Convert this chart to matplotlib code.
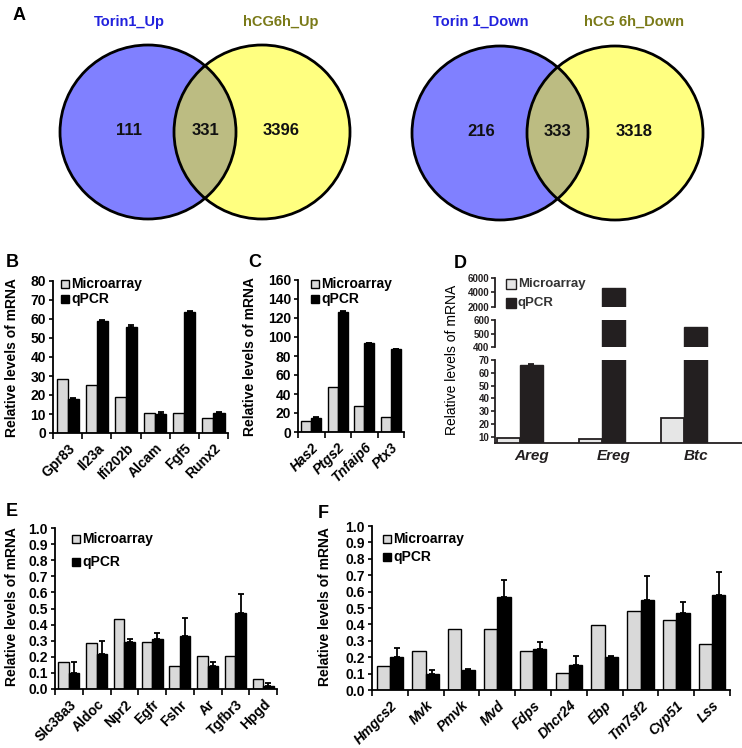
import numpy as np
import matplotlib
matplotlib.use('Agg')
import matplotlib.pyplot as plt
from matplotlib.patches import Ellipse, Rectangle
from matplotlib import font_manager

W, H = 742, 748

names = {f.name for f in font_manager.fontManager.ttflist}
NARROW = ['Liberation Sans Narrow', 'Liberation Sans'] if 'Liberation Sans Narrow' in names else ['Liberation Sans', 'DejaVu Sans']
plt.rcParams['font.family'] = ['Liberation Sans', 'DejaVu Sans']

# ---- data ----
venn_up_labels = ['Torin1_Up', 'hCG6h_Up']
venn_up_counts = [111, 331, 3396]
venn_down_labels = ['Torin 1_Down', 'hCG 6h_Down']
venn_down_counts = [216, 333, 3318]

b_genes = ['Gpr83', 'Il23a', 'Ifi202b', 'Alcam', 'Fgf5', 'Runx2']
b_micro = [28.3, 25.5, 19.0, 10.5, 10.5, 8.0]
b_qpcr = [18.0, 59.0, 56.0, 10.0, 63.5, 10.5]
b_err = [0.5, 0.6, 0.6, 0.8, 0.5, 0.5]

c_genes = ['Has2', 'Ptgs2', 'Tnfaip6', 'Ptx3']
c_micro = [12, 47, 27, 16]
c_qpcr = [15, 126, 94, 87]
c_err = [1.0, 1.2, 0, 0]

d_genes = ['Areg', 'Ereg', 'Btc']
d_micro = [9, 8.5, 24.5]
d_qpcr = [66, 4600, 550]
d_err = [1.0, 0, 0]

e_genes = ['Slc38a3', 'Aldoc', 'Npr2', 'Egfr', 'Fshr', 'Ar', 'Tgfbr3', 'Hpgd']
e_micro = [0.165, 0.285, 0.435, 0.295, 0.145, 0.205, 0.205, 0.06]
e_qpcr = [0.10, 0.22, 0.29, 0.31, 0.33, 0.14, 0.47, 0.02]
e_err = [0.065, 0.08, 0.02, 0.035, 0.11, 0.03, 0.12, 0.015]

f_genes = ['Hmgcs2', 'Mvk', 'Pmvk', 'Mvd', 'Fdps', 'Dhcr24', 'Ebp', 'Tm7sf2', 'Cyp51', 'Lss']
f_micro = [0.145, 0.24, 0.37, 0.37, 0.24, 0.105, 0.395, 0.48, 0.425, 0.28]
f_qpcr = [0.20, 0.10, 0.125, 0.565, 0.25, 0.15, 0.20, 0.55, 0.47, 0.58]
f_err = [0.055, 0.02, 0.005, 0.105, 0.04, 0.06, 0.005, 0.145, 0.065, 0.14]

fig = plt.figure(figsize=(W / 100, H / 100), dpi=100)


def px_axes(x0, y0, x1, y1):
    ax = fig.add_axes([x0 / W, 1 - y1 / H, (x1 - x0) / W, (y1 - y0) / H])
    ax.set_facecolor('none')
    return ax


def bar_panel(rect, genes, micro, qpcr, err, ymax, step, fmt, italic, w=0.38):
    ax = px_axes(*rect)
    x = np.arange(len(genes))
    ax.bar(x - w / 2, micro, w, color='#d9d9d9', edgecolor='black', linewidth=1)
    ax.bar(x + w / 2, qpcr, w, color='black', edgecolor='black', linewidth=1,
           yerr=[np.zeros(len(err)), err], capsize=2.5,
           error_kw=dict(elinewidth=1.3, capthick=1.3, ecolor='black'))
    ax.set_xlim(-0.5, len(genes) - 0.5)
    ax.set_ylim(0, ymax)
    yt = np.arange(0, ymax + step / 2, step)
    ax.set_yticks(yt)
    ax.set_yticklabels([fmt % v for v in yt], fontsize=10, fontweight='bold')
    ax.set_xticks(x)
    ax.set_xticklabels(genes, rotation=45, ha='right', rotation_mode='anchor',
                       fontsize=10, fontweight='bold',
                       fontstyle='italic' if italic else 'normal')
    ax.set_xticks(np.arange(-0.5, len(genes)), minor=True)
    ax.tick_params(axis='x', which='major', length=0, pad=6)
    ax.tick_params(axis='x', which='minor', length=4, width=1.2)
    ax.tick_params(axis='y', length=3, width=1.2, pad=2)
    for s in ['top', 'right']:
        ax.spines[s].set_visible(False)
    for s in ['left', 'bottom']:
        ax.spines[s].set_linewidth(1.3)
    return ax


# ---- B, C, E, F ----
bar_panel((53, 281, 228, 433), b_genes, b_micro, b_qpcr, b_err, 80, 10, '%d', False)
bar_panel((298, 280, 404, 432), c_genes, c_micro, c_qpcr, c_err, 160, 20, '%d', True)
bar_panel((55, 528, 277, 689), e_genes, e_micro, e_qpcr, e_err, 1.0, 0.1, '%.1f', False)
bar_panel((372, 526, 730, 690), f_genes, f_micro, f_qpcr, f_err, 1.0, 0.1, '%.1f', True, w=0.37)

# ---- D: broken axis ----
DK = '#231f20'
dw = 0.28
dx = np.arange(len(d_genes))
segments = [((278, 307), (2000, 6000), [2000, 4000, 6000]),
            ((320, 347), (400, 600), [400, 500, 600]),
            ((360, 443), (5.3, 70), [10, 20, 30, 40, 50, 60, 70])]
for i, ((py0, py1), lim, ticks) in enumerate(segments):
    ax = px_axes(495, py0, 742, py1)
    ax.bar(dx - dw / 2, d_micro, dw, color='#e6e6e6', edgecolor=DK, linewidth=1.3)
    if i == 2:
        ax.bar(dx + dw / 2, d_qpcr, dw, color=DK, edgecolor=DK, linewidth=1,
               yerr=[np.zeros(3), d_err], capsize=2.5,
               error_kw=dict(elinewidth=1.3, capthick=1.3, ecolor=DK))
    else:
        ax.bar(dx + dw / 2, d_qpcr, dw, color=DK, edgecolor=DK, linewidth=1)
    ax.set_xlim(-0.30, 2.71)
    ax.set_ylim(*lim)
    ax.set_yticks(ticks)
    ax.set_yticklabels([str(t) for t in ticks], fontsize=7, fontweight='bold',
                       family=NARROW, color=DK)
    ax.tick_params(axis='y', length=3, width=1.2, pad=1, color=DK)
    for s in ['top', 'right']:
        ax.spines[s].set_visible(False)
    ax.spines['left'].set_linewidth(1.3)
    ax.spines['left'].set_color(DK)
    if i < 2:
        ax.spines['bottom'].set_visible(False)
        ax.set_xticks([])
    else:
        ax.spines['bottom'].set_linewidth(1.3)
        ax.spines['bottom'].set_color(DK)
        ax.set_xticks(dx + 0.15)
        ax.set_xticklabels(d_genes, fontsize=11, fontweight='bold', fontstyle='italic', color=DK)
        ax.tick_params(axis='x', length=0, pad=4)

# ---- overlay: Venn diagrams, labels, legends ----
av = px_axes(0, 0, W, H)
av.set_xlim(0, W)
av.set_ylim(H, 0)
av.axis('off')


def venn(cx1, cx2, cy, w, h, labels, counts):
    c1 = Ellipse((cx1, cy), w, h, facecolor='#8080ff', edgecolor='none')
    c2 = Ellipse((cx2, cy), w, h, facecolor='#ffff80', edgecolor='none')
    av.add_patch(c1)
    av.add_patch(c2)
    inter = Ellipse((cx2, cy), w, h, facecolor='#bcbc82', edgecolor='none')
    av.add_patch(inter)
    inter.set_clip_path(c1)
    for cx in (cx1, cx2):
        av.add_patch(Ellipse((cx, cy), w, h, fill=False, edgecolor='black', linewidth=2))
    lx = [cx1 - 19, (cx1 + cx2) / 2, cx2 + 19]
    for xx, n in zip(lx, counts):
        av.text(xx, cy - 2, str(n), ha='center', va='center', fontsize=12,
                fontweight='bold', family=NARROW, color='#111111')
    av.text(cx1 - 19, 22, labels[0], ha='center', va='center', fontsize=10.5,
            fontweight='bold', family=NARROW, color='#2222dd')
    av.text(cx2 + 19, 22, labels[1], ha='center', va='center', fontsize=10.5,
            fontweight='bold', family=NARROW, color='#7a7a18')


venn(148, 262, 132, 176, 174, venn_up_labels, venn_up_counts)
venn(500, 615, 133, 176, 174, venn_down_labels, venn_down_counts)

for lab, (x, y) in zip('ABCDEF', [(19, 15), (12, 262), (255, 262), (460, 263), (12, 512), (323, 513)]):
    av.text(x, y, lab, ha='center', va='center', fontsize=13, fontweight='bold')

ylab = 'Relative levels of mRNA'
for x, y, wt in [(12, 358, 'bold'), (250, 357, 'bold'), (452, 360, 'normal'),
                 (12, 607, 'bold'), (325, 607, 'bold')]:
    av.text(x, y, ylab, rotation=90, ha='center', va='center', fontsize=10, fontweight=wt)


def legend(x, y1, y2, size=8, fc='#d9d9d9', ec='black', fam=None, col='black', fs=10):
    for yy, face, txt in [(y1, fc, 'Microarray'), (y2, ec, 'qPCR')]:
        av.add_patch(Rectangle((x, yy - size / 2), size, size, facecolor=face,
                               edgecolor=ec, linewidth=1))
        av.text(x + size + 2, yy, txt, ha='left', va='center', fontsize=fs,
                fontweight='bold', color=col, family=fam or plt.rcParams['font.family'])


legend(61, 284, 299)
legend(311, 284, 299)
legend(506, 284, 303, size=10, fc='#e6e6e6', ec=DK, fam=NARROW, col='#333333', fs=9.5)
legend(72, 539, 562)
legend(383, 539, 557)

fig.savefig('out.png', dpi=100)
